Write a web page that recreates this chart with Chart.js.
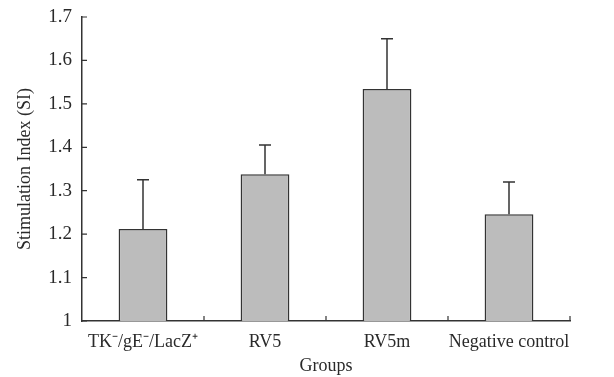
<!DOCTYPE html>
<html>
<head>
<meta charset="utf-8">
<script src="https://cdn.jsdelivr.net/npm/chart.js@4"></script>
<style>
  html, body { margin: 0; padding: 0; background: #fff; }
  #wrap { width: 614px; height: 377px; }
</style>
</head>
<body>
<div id="wrap"><canvas id="c" width="614" height="377"></canvas></div>
<script>
// data
const groups = ['TK\u207B/gE\u207B/LacZ\u207A', 'RV5', 'RV5m', 'Negative control'];
const means = [1.212, 1.338, 1.534, 1.246];
const errors = [0.113, 0.067, 0.116, 0.074];

const INK = '#333';
const TEXT = '#2a2a2a';

// upper-only error bars + inward tick marks
const errorBars = {
  id: 'errorBars',
  afterDatasetsDraw(chart) {
    const ctx = chart.ctx;
    const x = chart.scales.x, y = chart.scales.y;
    ctx.save();
    ctx.strokeStyle = INK;
    ctx.lineWidth = 1.5;
    means.forEach((m, i) => {
      const px = x.getPixelForValue(i);
      const top = y.getPixelForValue(m);
      const hi = y.getPixelForValue(m + errors[i]);
      ctx.beginPath();
      ctx.moveTo(px, top);
      ctx.lineTo(px, hi);
      ctx.moveTo(px - 6, hi);
      ctx.lineTo(px + 6, hi);
      ctx.stroke();
    });
    // tick marks pointing into the plot
    const area = chart.chartArea;
    ctx.lineWidth = 1.2;
    ctx.beginPath();
    y.ticks.forEach(t => {
      const py = y.getPixelForValue(t.value);
      ctx.moveTo(area.left, py);
      ctx.lineTo(area.left + 5, py);
    });
    const step = x.getPixelForValue(1) - x.getPixelForValue(0);
    for (let i = 0; i < groups.length; i++) {
      const px = x.getPixelForValue(i) + step / 2;
      ctx.moveTo(px, area.bottom);
      ctx.lineTo(px, area.bottom - 5);
    }
    ctx.stroke();
    ctx.restore();
  }
};

const serif = '"Liberation Serif", "Times New Roman", serif';

new Chart(document.getElementById('c'), {
  type: 'bar',
  data: {
    labels: groups,
    datasets: [{
      data: means,
      backgroundColor: '#bcbcbc',
      borderColor: INK,
      borderWidth: 1.5,
      categoryPercentage: 1,
      barPercentage: 0.4
    }]
  },
  options: {
    responsive: false,
    animation: false,
    layout: { padding: { top: 17, right: 44, left: 0, bottom: 0 } },
    plugins: { legend: { display: false }, tooltip: { enabled: false } },
    scales: {
      x: {
        grid: { display: false, drawTicks: false },
        border: { color: INK, width: 1.5 },
        ticks: { color: TEXT, font: { family: serif, size: 18 }, padding: 10, maxRotation: 0, autoSkip: false },
        title: { display: true, text: 'Groups', color: TEXT, font: { family: serif, size: 18 }, padding: { top: 0, bottom: 0 } },
        afterFit(s) { s.height = 56; s.paddingLeft = 0; s.paddingRight = 0; }
      },
      y: {
        min: 1, max: 1.7,
        grid: { display: false, drawTicks: false },
        border: { color: INK, width: 1.5 },
        ticks: {
          stepSize: 0.1, color: TEXT, font: { family: serif, size: 19 }, padding: 10,
          callback: v => String(Math.round(v * 10) / 10)
        },
        title: { display: true, text: 'Stimulation Index (SI)', color: TEXT, font: { family: serif, size: 18 }, padding: { top: 14, bottom: 6 } },
        afterFit(s) { s.width = 82; s.paddingTop = 0; s.paddingBottom = 0; }
      }
    }
  },
  plugins: [errorBars]
});
</script>
</body>
</html>
